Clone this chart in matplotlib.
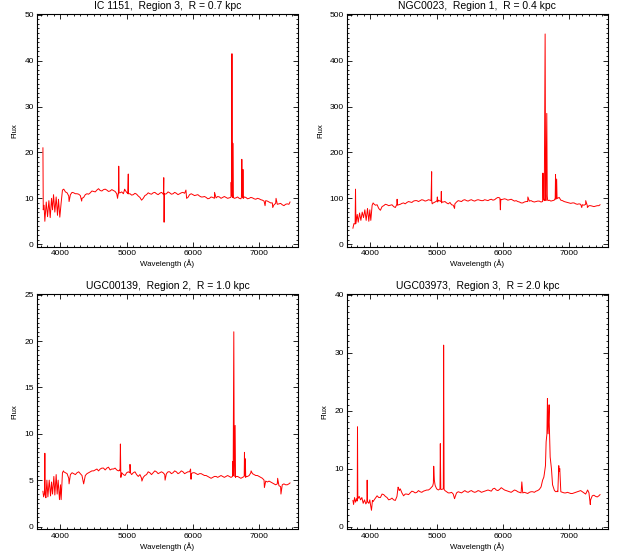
import numpy as np
import matplotlib
matplotlib.use("Agg")
import matplotlib.pyplot as plt
from matplotlib.ticker import MultipleLocator

plt.rcParams['font.family'] = ['Liberation Sans', 'DejaVu Sans']

# ---------------- data ----------------
titles = ["IC 1151,  Region 3,  R = 0.7 kpc",
          "NGC0023,  Region 1,  R = 0.4 kpc",
          "UGC00139,  Region 2,  R = 1.0 kpc",
          "UGC03973,  Region 3,  R = 2.0 kpc"]
ymax_list = [50, 500, 25, 40]
ymajor_list = [10, 100, 5, 10]

# continuum sampled every 50 A (4050..7450) plus in-between samples (4075..7425)
grid_wl = np.arange(4050, 7451, 50)
mid_wl = np.arange(4075, 7426, 50)

ic1151_cont = [12.0, 11.2, 10.8, 11.2, 11.0, 10.6, 10.2, 11.0, 11.2, 11.5,
               11.8, 11.7, 11.9, 11.8, 11.6, 11.7, 11.0, 11.2, 11.0, 11.3,
               11.0, 10.8, 10.9, 10.2, 10.0, 10.8, 11.0, 11.2, 11.0, 11.1,
               11.0, 11.0, 11.2, 11.0, 11.1, 11.0, 11.3, 11.0, 10.8, 10.8,
               10.7, 10.5, 10.3, 10.2, 10.0, 10.2, 10.1, 10.3, 10.2, 10.2,
               10.1, 10.2, 10.1, 10.0, 10.1, 10.2, 10.0, 10.1, 9.8, 9.9,
               9.6, 9.5, 9.2, 9.0, 8.9, 8.8, 8.6, 8.7, 8.7]
ic1151_mid = [11.4, 10.5, 11.3, 11.0, 10.9, 10.0, 10.8, 10.9, 11.6, 11.4,
              12.1, 11.6, 12.0, 11.5, 11.9, 11.5, 11.0, 11.4, 11.8, 11.0,
              10.7, 11.1, 10.5, 9.6, 10.6, 11.2, 10.9, 11.3, 10.8, 11.3,
              10.9, 11.4, 10.9, 11.3, 10.8, 11.2, 11.1, 10.2, 11.0, 10.6,
              10.8, 10.3, 10.4, 9.9, 10.3, 10.0, 10.4, 10.0, 10.4, 10.0,
              10.3, 10.0, 10.3, 9.9, 10.3, 9.9, 10.2, 9.9, 10.0, 9.7,
              9.4, 9.4, 9.0, 8.6, 8.7, 8.9, 8.4, 8.8]
ic1151_feat_wl = [3735, 3740, 3752, 3764, 3785, 3805, 3825, 3845, 3865, 3880,
                  3895, 3915, 3935, 3955, 3970, 3990, 4010, 4030,
                  4130, 4320, 4862, 4872, 4880, 4886, 4970,
                  5018, 5024, 5032, 5555, 5560, 5565, 5570, 5895, 5905, 6327,
                  6570, 6578, 6583, 6590, 6597, 6603, 6610,
                  6733, 6739, 6745, 6756, 6763, 7090, 7206, 7256, 7467]
ic1151_feat_fx = [21.0, 7.5, 8.5, 5.0, 9.2, 6.0, 9.5, 5.8, 10.0, 7.5,
                  10.8, 7.0, 10.3, 6.3, 9.8, 5.9, 9.0, 11.8,
                  9.3, 9.4, 10.0, 11.0, 17.0, 11.2, 12.0,
                  11.0, 15.3, 11.0, 10.8, 14.5, 4.8, 11.0, 11.8, 10.0, 11.3,
                  10.2, 13.5, 10.5, 41.5, 12.0, 22.0, 10.2,
                  10.2, 18.5, 11.0, 16.3, 10.0, 8.4, 8.0, 10.0, 9.2]

ngc0023_cont = [88, 86, 74, 84, 86, 85, 82, 88, 87, 90,
                91, 92, 94, 95, 95, 96, 95, 96, 90, 94,
                94, 92, 90, 91, 85, 92, 94, 96, 95, 96,
                95, 96, 96, 95, 96, 97, 96, 100, 101, 98,
                98, 97, 96, 95, 92, 90, 93, 94, 93, 93,
                94, 93, 95, 96, 95, 98, 102, 95, 92, 90,
                90, 88, 88, 86, 87, 84, 83, 83, 84]
ngc0023_mid = [85, 78, 82, 87, 84, 86, 80, 86, 89, 88,
               93, 91, 95, 93, 97, 94, 97, 95, 92, 96,
               90, 93, 88, 86, 88, 95, 93, 97, 94, 97,
               94, 97, 95, 97, 95, 98, 97, 102, 97, 99,
               96, 98, 94, 93, 90, 92, 93, 95, 92, 94,
               92, 95, 97, 94, 96, 100, 96, 93, 91, 89,
               90, 87, 87, 85, 84, 84, 82, 84]
ngc0023_feat_wl = [3735, 3750, 3768, 3774, 3780, 3800, 3815, 3835, 3855, 3875,
                   3895, 3915, 3935, 3955, 3975, 3990, 4005, 4025, 4040,
                   4396, 4402, 4408, 4915, 4924, 4932, 4945,
                   5005, 5010, 5015, 5065, 5070, 5076, 5270,
                   5955, 5962, 5968, 6377,
                   6600, 6605, 6612, 6638, 6645, 6663, 6670, 6680,
                   6790, 6795, 6800, 6812, 6818, 7191, 7251, 7276, 7467]
ngc0023_feat_fx = [35, 45, 44, 120, 45, 65, 48, 68, 52, 70,
                   58, 75, 52, 78, 50, 75, 52, 85, 90,
                   86, 98, 85, 95, 158, 88, 90,
                   94, 103, 92, 93, 115, 92, 78,
                   100, 75, 98, 103,
                   93, 155, 100, 458, 110, 285, 105, 95,
                   100, 152, 105, 142, 100, 80, 95, 80, 86]

ugc00139_cont = [5.9, 5.7, 5.6, 5.7, 5.8, 5.7, 4.6, 5.7, 5.9, 6.0,
                 6.2, 6.2, 6.3, 6.3, 6.1, 6.2, 6.1, 6.0, 5.6, 5.8,
                 5.9, 5.8, 5.6, 5.6, 5.3, 5.6, 5.8, 5.8, 5.9, 5.8,
                 5.8, 5.7, 5.9, 5.8, 5.9, 5.8, 5.9, 5.8, 5.9, 5.8,
                 5.7, 5.7, 5.6, 5.5, 5.3, 5.3, 5.4, 5.4, 5.4, 5.4,
                 5.4, 5.4, 5.4, 5.3, 5.3, 5.4, 5.5, 5.7, 5.5, 5.4,
                 5.2, 4.9, 4.9, 4.7, 4.5, 4.4, 4.5, 4.5, 4.6]
ugc00139_mid = [5.8, 5.2, 5.8, 5.6, 5.9, 5.5, 5.5, 5.8, 6.0, 6.1,
                6.0, 6.3, 6.1, 6.4, 6.2, 6.3, 6.0, 5.8, 5.5, 5.9,
                5.6, 5.9, 5.4, 5.2, 5.5, 5.9, 5.6, 6.0, 5.7, 5.9,
                5.6, 5.9, 5.7, 6.0, 5.7, 6.0, 5.7, 5.9, 5.7, 5.8,
                5.6, 5.7, 5.5, 5.4, 5.2, 5.4, 5.3, 5.5, 5.3, 5.5,
                5.3, 5.4, 5.4, 5.2, 5.4, 5.4, 5.8, 5.6, 5.5, 5.3,
                5.0, 4.8, 4.8, 4.6, 4.6, 4.3, 4.6, 4.5]
ugc00139_feat_wl = [3735, 3745, 3758, 3764, 3770, 3780, 3795, 3810, 3830, 3850,
                    3865, 3880, 3900, 3915, 3935, 3950, 3965, 3985, 4000, 4010,
                    4030, 4045,
                    4130, 4898, 4905, 4912, 4925, 5045, 5050, 5056, 5230, 5580,
                    5965, 5972, 6598, 6603, 6608, 6618, 6624, 6638, 6644,
                    6774, 6779, 6784, 6792, 6798, 6879, 7080, 7280, 7330, 7467]
ugc00139_feat_fx = [3.8, 3.2, 3.6, 7.9, 3.4, 3.1, 5.0, 3.2, 5.0, 3.3,
                    4.8, 3.5, 5.4, 3.4, 5.6, 3.5, 5.0, 2.9, 4.5, 2.9,
                    5.8, 6.0,
                    4.6, 6.1, 8.9, 5.3, 5.8, 5.8, 6.7, 5.8, 4.9, 5.0,
                    6.2, 5.1, 5.4, 7.0, 5.5, 21.0, 5.6, 10.9, 5.3,
                    5.4, 8.0, 5.5, 7.3, 5.3, 6.0, 4.2, 5.2, 3.5, 4.7]

ugc03973_cont = [4.5, 5.3, 5.0, 5.5, 5.0, 4.7, 4.6, 5.2, 6.5, 5.3,
                 5.6, 5.8, 6.0, 5.9, 6.0, 6.1, 6.3, 6.5, 7.5, 6.5,
                 6.5, 6.5, 6.0, 5.8, 5.6, 5.8, 5.9, 6.0, 6.0, 6.1,
                 6.0, 6.0, 6.1, 6.0, 6.2, 6.2, 6.5, 6.3, 6.4, 6.5,
                 6.2, 6.0, 6.1, 6.2, 5.9, 5.8, 5.8, 5.9, 6.0, 6.1,
                 6.4, 8.0, 13.0, 18.0, 7.2, 6.0, 9.5, 5.9, 5.8, 5.8,
                 5.7, 5.9, 6.1, 6.0, 5.6, 5.8, 5.3, 5.2, 5.3]
ugc03973_mid = [4.9, 5.0, 5.6, 5.2, 4.6, 4.9, 4.5, 6.6, 5.8, 5.6,
                5.5, 6.1, 5.8, 6.2, 5.9, 6.2, 6.3, 6.8, 7.2, 6.3,
                6.4, 6.2, 5.8, 5.9, 5.0, 6.0, 5.8, 6.2, 5.9, 6.2,
                5.9, 6.2, 5.9, 6.1, 6.3, 6.1, 6.6, 6.2, 6.7, 6.3,
                6.1, 5.9, 6.3, 6.0, 5.8, 5.9, 5.7, 6.0, 5.9, 6.2,
                6.8, 9.0, 19.0, 10.8, 6.3, 6.1, 6.0, 5.8, 5.9, 5.7,
                5.8, 6.0, 6.2, 5.8, 6.2, 4.6, 5.4, 5.1]
ugc03973_feat_wl = [3735, 3745, 3760, 3775, 3790, 3800, 3804, 3809, 3830, 3850,
                    3870, 3890, 3910, 3930, 3945, 3950, 3956, 3975, 3990, 4000,
                    4015, 4030, 4040,
                    4417, 4435, 4940, 4955, 4965, 4980,
                    5048, 5055, 5062, 5098, 5105, 5112, 5270, 6286,
                    6580, 6618, 6643, 6653, 6665, 6673, 6683, 6698, 6714, 6734,
                    6779, 6830, 6844, 6859, 6875, 7280, 7320, 7467]
ugc03973_feat_fx = [4.5, 3.8, 5.0, 4.2, 4.8, 4.4, 17.2, 4.8, 5.2, 4.6,
                    5.0, 4.0, 4.6, 3.9, 4.2, 8.0, 4.3, 4.0, 4.6, 3.8,
                    2.8, 4.5, 4.3,
                    6.8, 6.2, 7.0, 10.4, 8.0, 7.0,
                    6.5, 14.3, 6.4, 6.5, 31.3, 6.4, 4.8, 7.7,
                    7.0, 8.5, 10.5, 14.6, 16.0, 22.1, 16.0, 21.0, 12.0, 9.9,
                    6.2, 6.0, 10.5, 10.0, 6.0, 6.3, 3.8, 5.5]

spectra = [(ic1151_cont, ic1151_mid, ic1151_feat_wl, ic1151_feat_fx),
           (ngc0023_cont, ngc0023_mid, ngc0023_feat_wl, ngc0023_feat_fx),
           (ugc00139_cont, ugc00139_mid, ugc00139_feat_wl, ugc00139_feat_fx),
           (ugc03973_cont, ugc03973_mid, ugc03973_feat_wl, ugc03973_feat_fx)]

# ---------------- figure ----------------
W, H = 620, 551
fig = plt.figure(figsize=(W / 100, H / 100), dpi=100)

# axes boxes in pixels: left, right, top, bottom
boxes = [(37.3, 297.5, 14.0, 247.0), (347.3, 607.5, 14.0, 247.0),
         (37.3, 297.5, 294.0, 529.3), (347.3, 607.5, 294.0, 529.3)]

for i, (cont, mid, fwl, ffx) in enumerate(spectra):
    l, r, t, b = boxes[i]
    ax = fig.add_axes([l / W, 1 - b / H, (r - l) / W, (b - t) / H])
    wl = np.concatenate([grid_wl, mid_wl, np.array(fwl, float)])
    fx = np.concatenate([np.array(cont, float), np.array(mid, float),
                         np.array(ffx, float)])
    order = np.argsort(wl, kind="stable")
    ax.plot(wl[order], fx[order], color='#ff0000', lw=0.7)

    ymax = ymax_list[i]
    ax.set_xlim(3650, 7580)
    ax.set_ylim(-0.012 * ymax, ymax * 1.003)
    ax.xaxis.set_major_locator(MultipleLocator(1000))
    ax.xaxis.set_minor_locator(MultipleLocator(100))
    ax.yaxis.set_major_locator(MultipleLocator(ymajor_list[i]))
    ax.yaxis.set_minor_locator(MultipleLocator(ymajor_list[i] / 10))
    ax.tick_params(which='both', direction='in', top=True, right=True,
                   width=0.6, labelsize=6.0, pad=2.5, colors='black')
    ax.tick_params(which='major', length=3.5)
    ax.tick_params(which='minor', length=1.6)
    for s in ax.spines.values():
        s.set_linewidth(0.8)
    ax.set_title(titles[i], fontsize=7.5, pad=3.5)
    ax.set_xlabel("Wavelength (Å)", fontsize=5.7, labelpad=1.5)
    ax.set_ylabel("Flux", fontsize=5.7, labelpad=4)

fig.savefig("out.png", dpi=100)
